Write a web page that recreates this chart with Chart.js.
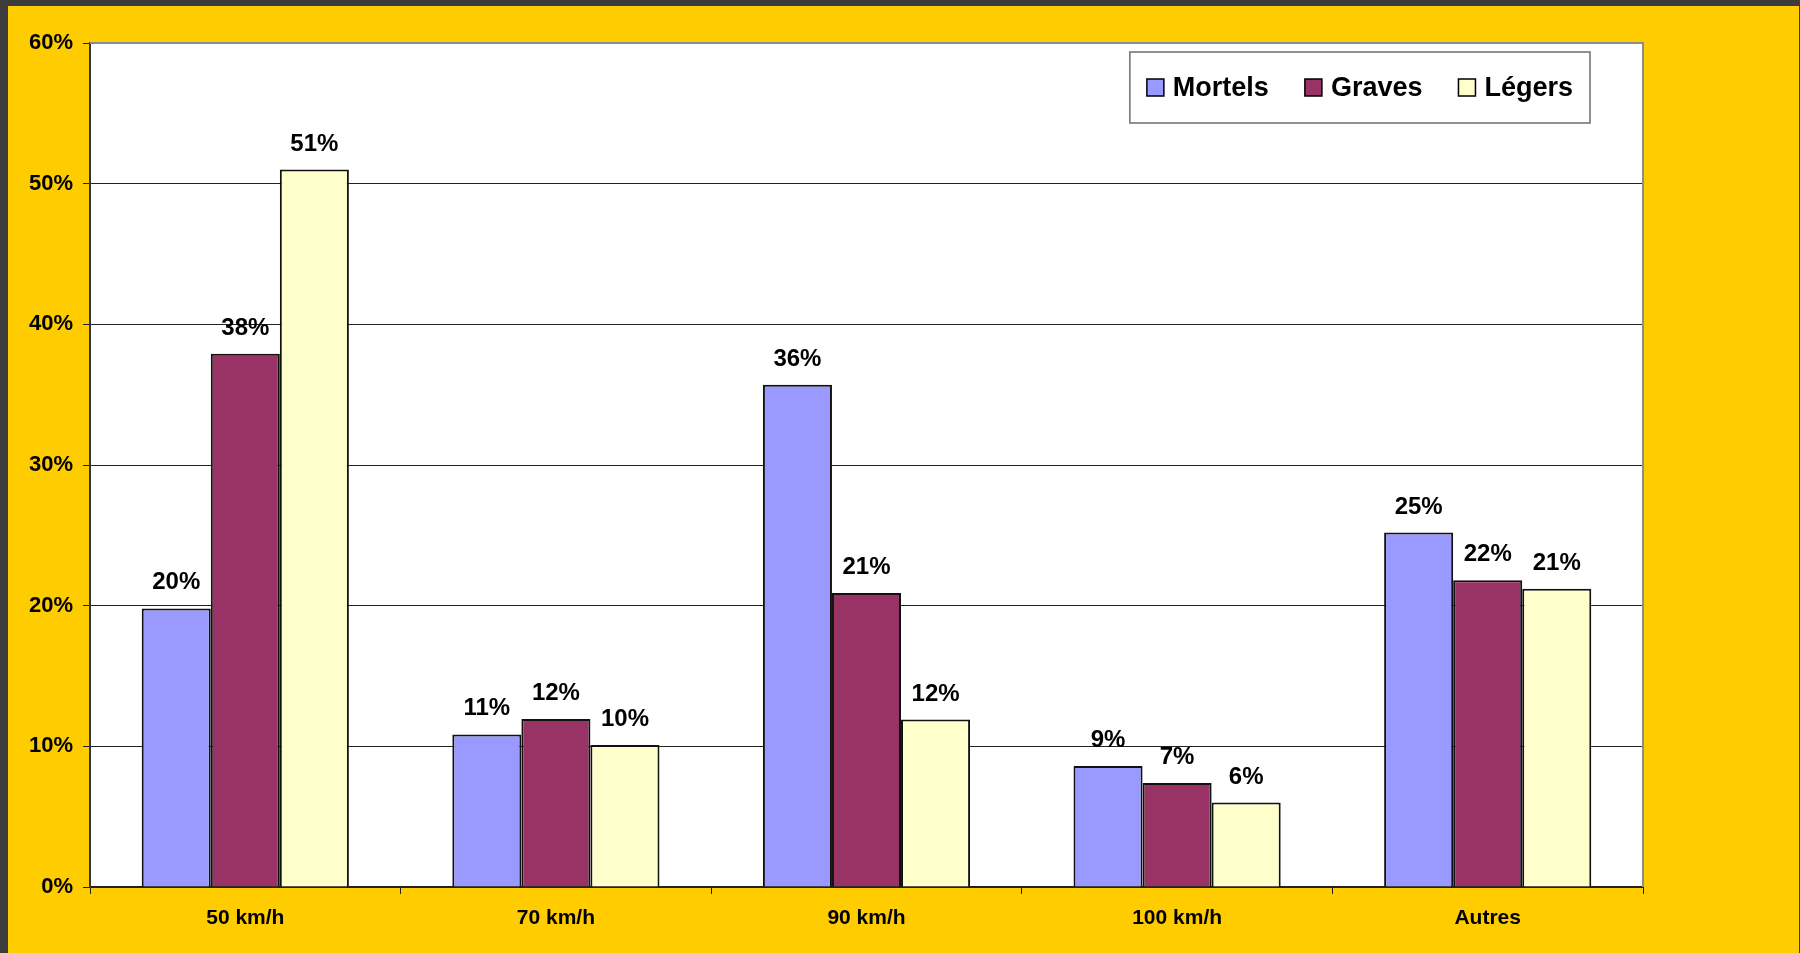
<!DOCTYPE html>
<html>
<head>
<meta charset="utf-8">
<title>Accidents par vitesse</title>
<script src="https://cdn.jsdelivr.net/npm/chart.js@4.4.0/dist/chart.umd.min.js"></script>
<style>
    html, body { margin: 0; padding: 0; background: #3c3c3c; overflow: hidden; }
    canvas { display: block; }
</style>
</head>
<body>
<canvas id="chart" width="1800" height="953"></canvas>
<script>
// Chart data
var categories = ['50 km/h', '70 km/h', '90 km/h', '100 km/h', 'Autres'];
var seriesNames = ['Mortels', 'Graves', 'Légers'];
var mortels = [19.8, 10.85, 35.7, 8.6, 25.2];
var graves = [37.9, 11.95, 20.9, 7.4, 21.8];
var legers = [51.0, 10.1, 11.9, 6.0, 21.2];
var yTicks = [0, 10, 20, 30, 40, 50, 60];

var fontFamily = '"Liberation Sans", Arial, sans-serif';

// Paints the frame: dark edge, yellow card, white plot area
var backgroundPlugin = {
    id: 'background',
    beforeDraw: function (chart) {
        var ctx = chart.ctx;
        var area = chart.chartArea;
        ctx.save();
        ctx.fillStyle = '#3c3c3c';
        ctx.fillRect(0, 0, chart.width, chart.height);
        ctx.fillStyle = '#ffcc00';
        ctx.fillRect(8, 6, chart.width - 9, chart.height - 6);
        ctx.fillStyle = '#ffffff';
        ctx.fillRect(area.left, area.top, area.right - area.left, area.bottom - area.top);
        ctx.restore();
    },
    afterDraw: function (chart) {
        // Gray edge on top and right of the plot
        var ctx = chart.ctx;
        var area = chart.chartArea;
        ctx.save();
        ctx.strokeStyle = '#8c8c8c';
        ctx.lineWidth = 2;
        ctx.beginPath();
        ctx.moveTo(area.left, area.top);
        ctx.lineTo(area.right, area.top);
        ctx.lineTo(area.right, area.bottom);
        ctx.stroke();
        ctx.restore();
    }
};

// Writes the rounded value above every bar
var valueLabelPlugin = {
    id: 'valueLabels',
    afterDatasetsDraw: function (chart) {
        var ctx = chart.ctx;
        ctx.save();
        ctx.font = 'bold 24px ' + fontFamily;
        ctx.fillStyle = '#000000';
        ctx.textAlign = 'center';
        ctx.textBaseline = 'alphabetic';
        chart.data.datasets.forEach(function (ds, i) {
            var meta = chart.getDatasetMeta(i);
            meta.data.forEach(function (bar, j) {
                ctx.fillText(Math.round(ds.data[j]) + '%', bar.x, bar.y - 19);
            });
        });
        ctx.restore();
    }
};

// Boxed legend inside the plot, top right
var boxLegendPlugin = {
    id: 'boxLegend',
    afterDraw: function (chart) {
        var ctx = chart.ctx;
        var area = chart.chartArea;
        var boxRight = area.right - 53;
        var boxTop = area.top + 9;
        var boxHeight = 71;
        var swatch = 17;
        ctx.save();
        ctx.font = 'bold 27px ' + fontFamily;

        // Measure the items first so the box fits them
        var widths = chart.data.datasets.map(function (ds) {
            return swatch + 9 + ctx.measureText(ds.label).width;
        });
        var gap = 36;
        var padX = 17;
        var total = widths.reduce(function (a, b) { return a + b; }, 0) + gap * (widths.length - 1);
        var boxWidth = total + padX * 2;
        var boxLeft = boxRight - boxWidth;

        ctx.fillStyle = '#ffffff';
        ctx.fillRect(boxLeft, boxTop, boxWidth, boxHeight);
        ctx.strokeStyle = '#6e6e6e';
        ctx.lineWidth = 1.5;
        ctx.strokeRect(boxLeft, boxTop, boxWidth, boxHeight);

        var cy = boxTop + boxHeight / 2;
        var x = boxLeft + padX;
        ctx.textBaseline = 'middle';
        ctx.textAlign = 'left';
        chart.data.datasets.forEach(function (ds, i) {
            ctx.fillStyle = ds.backgroundColor;
            ctx.fillRect(x, cy - swatch / 2, swatch, swatch);
            ctx.strokeStyle = '#000000';
            ctx.lineWidth = 1.5;
            ctx.strokeRect(x, cy - swatch / 2, swatch, swatch);
            ctx.fillStyle = '#000000';
            ctx.fillText(ds.label, x + swatch + 9, cy + 1);
            x += widths[i] + gap;
        });
        ctx.restore();
    }
};

var data = {
    labels: categories,
    datasets: [
        { label: seriesNames[0], data: mortels, backgroundColor: '#9999ff' },
        { label: seriesNames[1], data: graves, backgroundColor: '#993366' },
        { label: seriesNames[2], data: legers, backgroundColor: '#ffffcc' }
    ].map(function (ds) {
        ds.borderColor = '#111111';
        ds.borderWidth = 2;
        ds.categoryPercentage = 0.667;
        ds.barPercentage = 1.0;
        return ds;
    })
};

var options = {
    responsive: false,
    animation: false,
    devicePixelRatio: 1,
    layout: {
        padding: { top: 43, right: 157, bottom: 0, left: 0 }
    },
    plugins: {
        legend: { display: false },
        tooltip: { enabled: false }
    },
    scales: {
        x: {
            afterFit: function (scale) { scale.height = 66; },
            grid: {
                offset: true,
                drawOnChartArea: false,
                drawTicks: true,
                tickLength: 7,
                color: '#222222',
                lineWidth: 1
            },
            border: { color: '#222222', width: 2 },
            ticks: {
                color: '#000000',
                padding: 12,
                font: { family: fontFamily, size: 21, weight: 'bold' }
            }
        },
        y: {
            min: yTicks[0],
            max: yTicks[yTicks.length - 1],
            afterFit: function (scale) { scale.width = 90; },
            afterBuildTicks: function (scale) {
                scale.ticks = yTicks.map(function (v) { return { value: v }; });
            },
            grid: {
                color: '#222222',
                lineWidth: 1,
                tickLength: 7
            },
            border: { color: '#333333', width: 2 },
            ticks: {
                color: '#000000',
                padding: 10,
                font: { family: fontFamily, size: 22, weight: 'bold' },
                callback: function (v) { return v + '%'; }
            }
        }
    }
};

var ctx = document.getElementById('chart').getContext('2d');
var accidentsChart = new Chart(ctx, {
    type: 'bar',
    data: data,
    options: options,
    plugins: [backgroundPlugin, valueLabelPlugin, boxLegendPlugin]
});
</script>
</body>
</html>
